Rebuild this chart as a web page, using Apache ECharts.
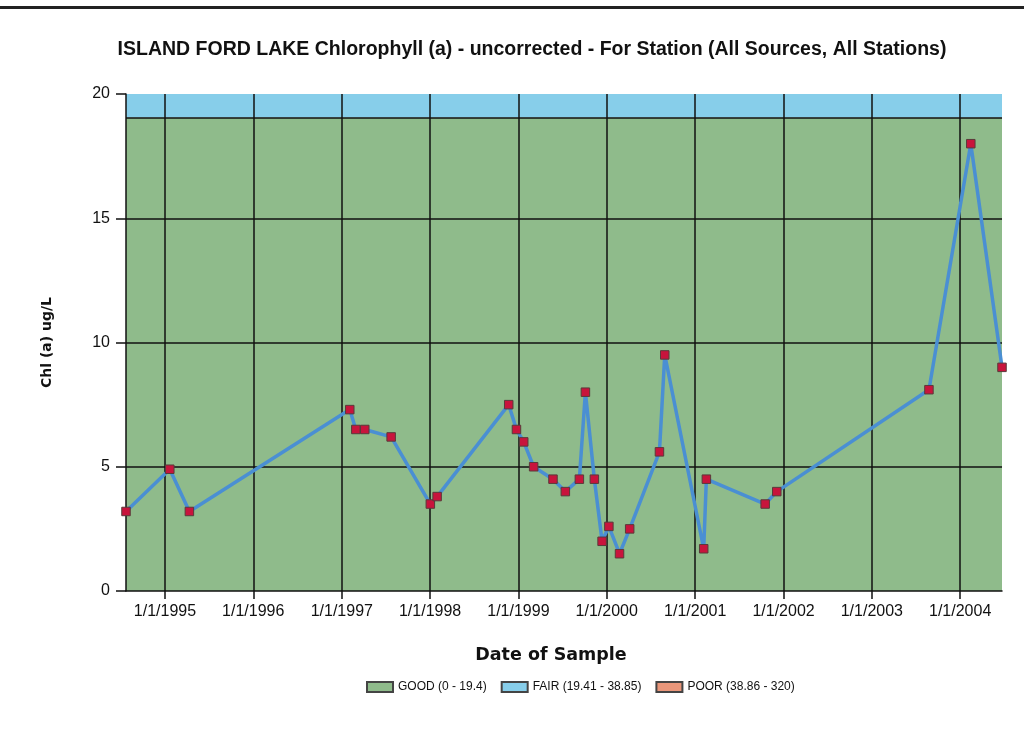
<!DOCTYPE html>
<html>
<head>
<meta charset="utf-8">
<script src="https://cdn.jsdelivr.net/npm/echarts@6/dist/echarts.min.js"></script>
<style>
html,body{margin:0;padding:0;background:#ffffff;}
#chart{width:1024px;height:740px;}
</style>
</head>
<body>
<div id="chart"></div>
<script>
// Sample dates and chlorophyll values (ug/L)
const sampleDates = [
  '1994-07-24','1995-01-21','1995-04-12','1997-02-03','1997-02-28','1997-04-06','1997-07-24',
  '1998-01-02','1998-01-30','1998-11-22','1998-12-24','1999-01-23','1999-03-05','1999-05-24',
  '1999-07-14','1999-09-10','1999-10-05','1999-11-11','1999-12-13','2000-01-10','2000-02-23',
  '2000-04-05','2000-08-06','2000-08-28','2001-02-05','2001-02-16','2001-10-17','2001-12-04',
  '2003-08-25','2004-02-14','2004-06-22'
];
const chlValues = [
  3.2, 4.9, 3.2, 7.3, 6.5, 6.5, 6.2,
  3.5, 3.8, 7.5, 6.5, 6.0, 5.0, 4.5,
  4.0, 4.5, 8.0, 4.5, 2.0, 2.6, 1.5,
  2.5, 5.6, 9.5, 1.7, 4.5, 3.5, 4.0,
  8.1, 18.0, 9.0
];
// Rating bands (as drawn on the chart)
const bandNames = ['GOOD (0 - 19.4)', 'FAIR (19.41 - 38.85)', 'POOR (38.86 - 320)'];
const bandColors = ['#8fbb8b', '#87ceea', '#e9967a'];
const bandLower = [0, 19.05, 38.86];
const bandUpper = [19.05, 38.85, 320];
const yTicks = [0, 5, 10, 15, 20];

const chart = echarts.init(document.getElementById('chart'));
const seriesData = sampleDates.map((d, i) => [d, chlValues[i]]);

const bandSeries = bandNames.map((name, i) => ({
  name: name,
  type: 'line',
  data: [],
  z: 0,
  silent: true,
  itemStyle: { color: bandColors[i], borderColor: '#444', borderWidth: 1 },
  lineStyle: { width: 0 },
  markArea: {
    silent: true,
    z: 0,
    itemStyle: { color: bandColors[i], opacity: 1, borderWidth: 0 },
    data: [[{ yAxis: bandLower[i] }, { yAxis: Math.min(bandUpper[i], 20) }]]
  },
  markLine: i === 0 ? {
    silent: true,
    z: 4,
    symbol: 'none',
    label: { show: false },
    lineStyle: { color: '#111', width: 1.5, type: 'solid' },
    data: [{ yAxis: bandUpper[0] }]
  } : undefined
}));

const option = {
  backgroundColor: '#ffffff',
  animation: false,
  title: {
    text: 'ISLAND FORD LAKE Chlorophyll (a) - uncorrected - For Station (All Sources, All Stations)',
    left: 527, top: 35, textAlign: 'center',
    textStyle: { fontFamily: 'Liberation Sans', fontWeight: 'bold', fontSize: 19.5, color: '#111' }
  },
  graphic: [{ type: 'rect', shape: { x: 0, y: 6, width: 1024, height: 3 }, style: { fill: '#222' } }],
  legend: {
    data: bandNames,
    bottom: 42, left: 361,
    icon: 'rect', itemWidth: 26, itemHeight: 10, itemGap: 14,
    textStyle: { fontFamily: 'Liberation Sans', fontSize: 12, color: '#111' }
  },
  grid: { left: 126, right: 22, top: 94, bottom: 149 },
  xAxis: {
    type: 'time',
    min: 'dataMin', max: 'dataMax',
    z: 3,
    name: 'Date of Sample', nameLocation: 'middle', nameGap: 55,
    nameTextStyle: { fontFamily: 'DejaVu Sans', fontWeight: 'bold', fontSize: 17.5, color: '#111', padding: [0, 26, 0, 0] },
    splitNumber: 10,
    axisLine: { lineStyle: { color: '#111', width: 1.5 } },
    axisTick: { show: true, length: 8, lineStyle: { color: '#111', width: 1.5 } },
    splitLine: { show: true, showMinLine: false, showMaxLine: false, lineStyle: { color: '#111', width: 1.5 } },
    axisLabel: {
      margin: 13, color: '#111', fontFamily: 'Liberation Sans', fontSize: 16,
      showMinLabel: false, showMaxLabel: false,
      formatter: function (v) { const d = new Date(v); return (d.getMonth() + 1) + '/' + d.getDate() + '/' + d.getFullYear(); }
    }
  },
  yAxis: {
    type: 'value', min: yTicks[0], max: yTicks[yTicks.length - 1], interval: 5,
    z: 3,
    name: 'Chl (a) ug/L', nameLocation: 'middle', nameGap: 72, nameRotate: 90,
    nameTextStyle: { fontFamily: 'DejaVu Sans', fontWeight: 'bold', fontSize: 14, color: '#111' },
    axisLine: { show: true, lineStyle: { color: '#111', width: 1.5 } },
    axisTick: { show: true, length: 10, lineStyle: { color: '#111', width: 1.5 } },
    splitLine: { show: true, showMinLine: false, showMaxLine: false, lineStyle: { color: '#111', width: 1.5 } },
    axisLabel: { margin: 16, color: '#111', fontFamily: 'Liberation Sans', fontSize: 16 }
  },
  series: bandSeries.concat([{
    name: 'Chl (a)',
    type: 'line',
    z: 5,
    data: seriesData,
    symbol: 'rect', symbolSize: 8.5,
    lineStyle: { color: '#4a8fd3', width: 3.5 },
    itemStyle: { color: '#c8143c', borderColor: '#5a3a3a', borderWidth: 1 }
  }])
};
chart.setOption(option);
</script>
</body>
</html>
